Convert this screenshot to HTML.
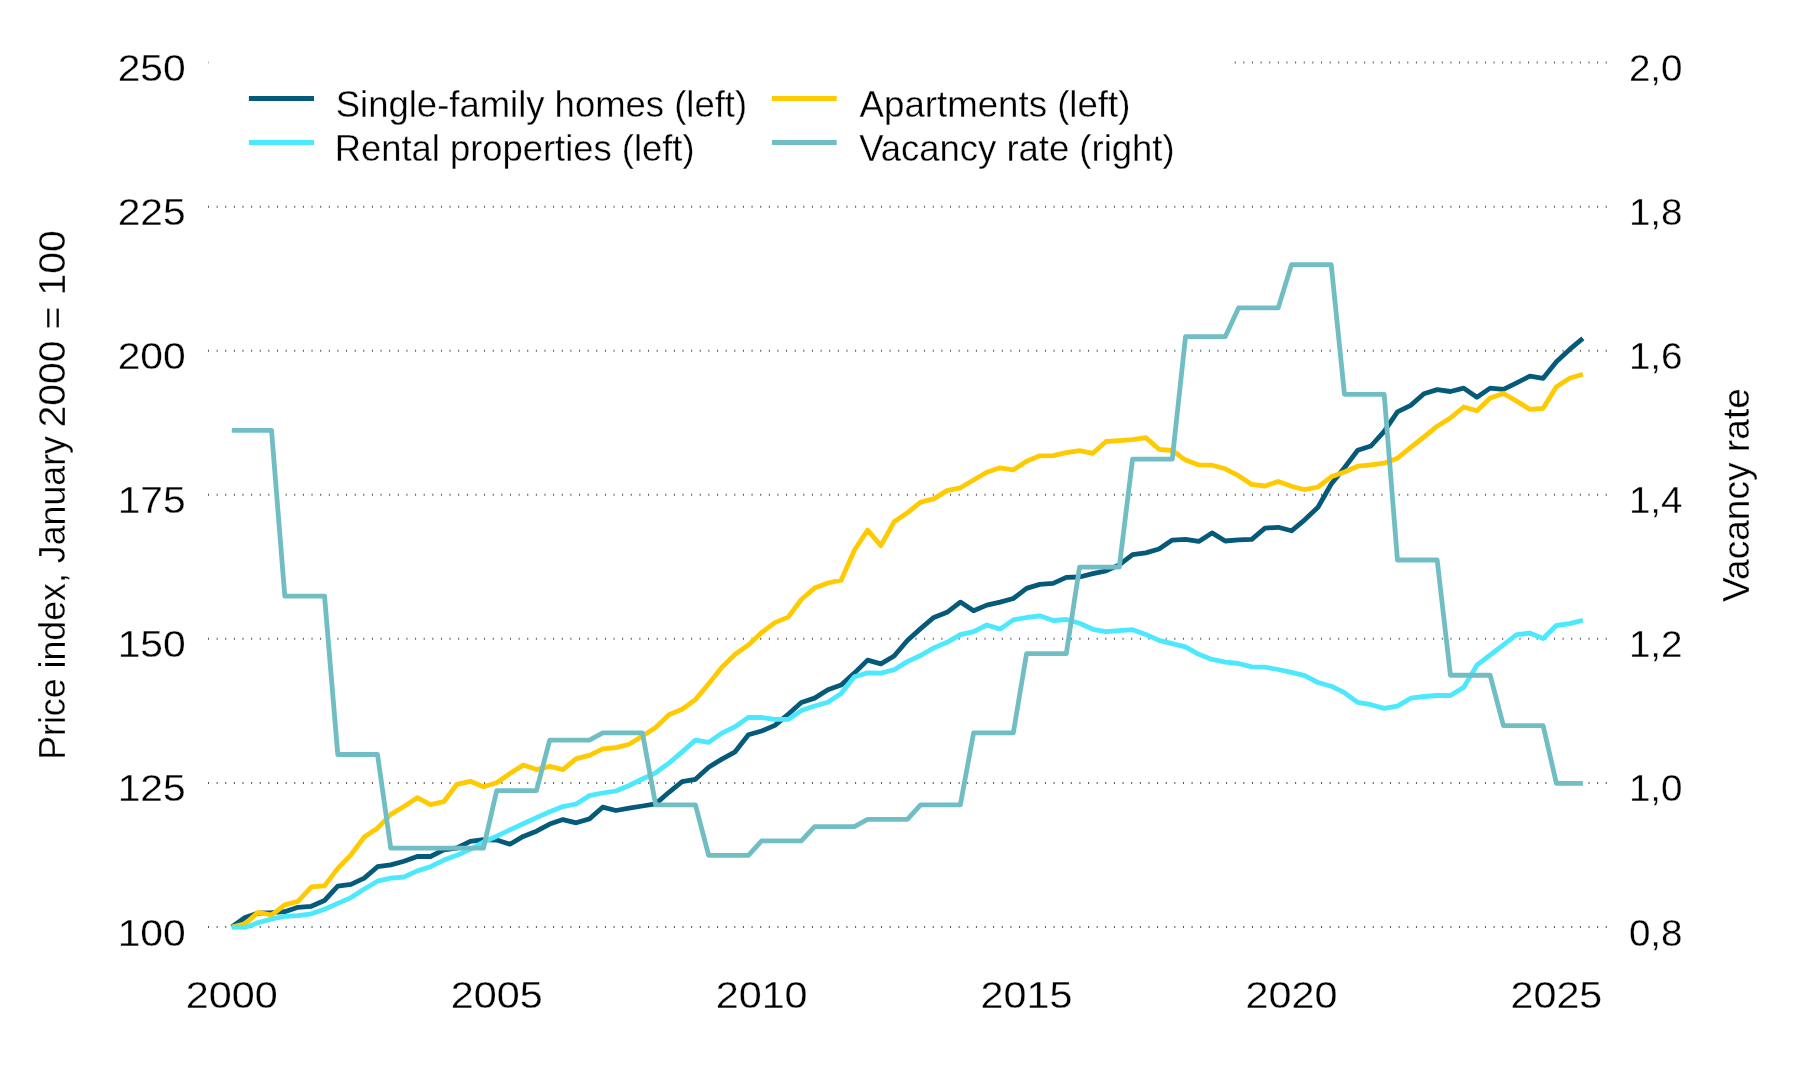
<!DOCTYPE html>
<html><head><meta charset="utf-8"><title>Chart</title>
<style>
html,body{margin:0;padding:0;background:#ffffff;}
body{width:1800px;height:1080px;overflow:hidden;font-family:"Liberation Sans",sans-serif;}
svg{display:block;will-change:transform;}
</style></head>
<body>
<svg width="1800" height="1080" viewBox="0 0 1800 1080">
<rect x="0" y="0" width="1800" height="1080" fill="#ffffff"/>
<g stroke="#555" stroke-width="2" stroke-dasharray="1 7.628" fill="none">
<line x1="208.00" y1="927.00" x2="1606.74" y2="927.00" />
<line x1="208.00" y1="782.93" x2="1606.74" y2="782.93" />
<line x1="208.00" y1="638.86" x2="1606.74" y2="638.86" />
<line x1="208.00" y1="494.79" x2="1606.74" y2="494.79" />
<line x1="208.00" y1="350.72" x2="1606.74" y2="350.72" />
<line x1="208.00" y1="206.65" x2="1606.74" y2="206.65" />
<line x1="1234.73" y1="62.58" x2="1606.74" y2="62.58" />
<line x1="208.00" y1="62.58" x2="209.00" y2="62.58" stroke="#bbb"/>
</g>
<g fill="none" stroke-width="4.8" stroke-linejoin="round" stroke-linecap="butt">
<path d="M231.80,927.00 L245.05,917.50 L258.29,913.10 L271.54,912.60 L284.78,911.70 L298.03,907.30 L311.28,906.30 L324.52,900.50 L337.77,886.20 L351.01,884.40 L364.26,878.10 L377.51,866.70 L390.75,864.90 L404.00,861.30 L417.24,856.50 L430.49,856.50 L443.74,849.90 L456.98,848.00 L470.23,841.40 L483.47,839.60 L496.72,840.00 L509.97,844.20 L523.21,836.40 L536.46,831.20 L549.70,824.10 L562.95,819.60 L576.20,822.80 L589.44,818.90 L602.69,807.20 L615.93,810.50 L629.18,808.20 L642.43,806.00 L655.67,803.90 L668.92,792.30 L682.16,781.70 L695.41,779.30 L708.66,767.20 L721.90,759.10 L735.15,751.80 L748.39,734.80 L761.64,731.00 L774.89,725.40 L788.13,714.30 L801.38,702.50 L814.62,698.10 L827.87,689.70 L841.12,685.10 L854.36,673.10 L867.61,660.10 L880.85,663.90 L894.10,656.00 L907.35,640.50 L920.59,628.60 L933.84,617.40 L947.08,612.30 L960.33,602.10 L973.58,610.70 L986.82,605.10 L1000.07,602.10 L1013.31,598.50 L1026.56,588.40 L1039.81,584.40 L1053.05,583.40 L1066.30,577.40 L1079.54,577.00 L1092.79,573.70 L1106.04,570.90 L1119.28,564.90 L1132.53,554.70 L1145.77,552.90 L1159.02,549.00 L1172.27,540.10 L1185.51,539.30 L1198.76,541.40 L1212.00,532.90 L1225.25,541.00 L1238.50,539.80 L1251.74,539.30 L1264.99,528.10 L1278.23,527.30 L1291.48,530.80 L1304.73,519.80 L1317.97,507.30 L1331.22,484.00 L1344.46,467.80 L1357.71,450.30 L1370.96,446.00 L1384.20,431.40 L1397.45,411.90 L1410.69,405.40 L1423.94,393.80 L1437.19,389.60 L1450.43,391.50 L1463.68,388.10 L1476.92,397.30 L1490.17,388.10 L1503.42,389.30 L1516.66,382.80 L1529.91,376.10 L1543.15,378.30 L1556.40,361.70 L1569.65,349.40 L1582.89,338.30" stroke="#045a78"/>
<path d="M231.80,927.00 L245.05,923.80 L258.29,912.30 L271.54,915.00 L284.78,904.90 L298.03,901.40 L311.28,886.90 L324.52,885.90 L337.77,868.40 L351.01,854.80 L364.26,837.00 L377.51,828.20 L390.75,814.40 L404.00,806.50 L417.24,797.70 L430.49,804.70 L443.74,801.70 L456.98,784.30 L470.23,781.30 L483.47,786.70 L496.72,782.80 L509.97,773.50 L523.21,765.10 L536.46,769.60 L549.70,766.40 L562.95,769.60 L576.20,758.60 L589.44,755.40 L602.69,748.90 L615.93,747.60 L629.18,744.20 L642.43,736.00 L655.67,727.50 L668.92,714.80 L682.16,709.30 L695.41,699.60 L708.66,683.70 L721.90,667.20 L735.15,654.30 L748.39,644.90 L761.64,632.50 L774.89,622.60 L788.13,617.10 L801.38,599.50 L814.62,588.00 L827.87,583.00 L841.12,580.20 L854.36,550.30 L867.61,530.10 L880.85,545.60 L894.10,521.80 L907.35,512.80 L920.59,502.20 L933.84,498.90 L947.08,490.60 L960.33,487.80 L973.58,480.00 L986.82,472.20 L1000.07,467.80 L1013.31,469.80 L1026.56,461.30 L1039.81,455.80 L1053.05,455.60 L1066.30,452.60 L1079.54,450.70 L1092.79,453.30 L1106.04,441.50 L1119.28,440.60 L1132.53,439.60 L1145.77,437.60 L1159.02,449.30 L1172.27,450.50 L1185.51,460.10 L1198.76,464.90 L1212.00,465.20 L1225.25,468.80 L1238.50,475.70 L1251.74,484.40 L1264.99,486.00 L1278.23,481.50 L1291.48,486.30 L1304.73,489.70 L1317.97,487.00 L1331.22,476.80 L1344.46,472.00 L1357.71,466.20 L1370.96,464.80 L1384.20,463.20 L1397.45,458.20 L1410.69,447.40 L1423.94,437.00 L1437.19,426.20 L1450.43,418.00 L1463.68,407.00 L1476.92,410.70 L1490.17,398.00 L1503.42,393.50 L1516.66,401.10 L1529.91,409.40 L1543.15,408.30 L1556.40,386.70 L1569.65,378.30 L1582.89,374.20" stroke="#ffcb00"/>
<path d="M231.80,927.20 L245.05,927.40 L258.29,922.60 L271.54,919.00 L284.78,916.40 L298.03,915.60 L311.28,913.80 L324.52,909.20 L337.77,903.40 L351.01,897.60 L364.26,889.00 L377.51,881.20 L390.75,878.20 L404.00,877.00 L417.24,870.90 L430.49,866.70 L443.74,860.10 L456.98,855.30 L470.23,849.30 L483.47,842.00 L496.72,836.20 L509.97,829.90 L523.21,823.80 L536.46,817.60 L549.70,811.80 L562.95,806.60 L576.20,804.00 L589.44,795.60 L602.69,793.00 L615.93,791.00 L629.18,785.50 L642.43,779.00 L655.67,772.80 L668.92,763.10 L682.16,751.80 L695.41,740.10 L708.66,742.40 L721.90,733.10 L735.15,726.70 L748.39,717.40 L761.64,717.50 L774.89,719.40 L788.13,719.40 L801.38,710.60 L814.62,706.00 L827.87,702.20 L841.12,693.50 L854.36,676.80 L867.61,672.90 L880.85,673.10 L894.10,669.70 L907.35,661.60 L920.59,655.50 L933.84,647.90 L947.08,642.30 L960.33,634.70 L973.58,631.60 L986.82,625.00 L1000.07,629.10 L1013.31,619.90 L1026.56,617.50 L1039.81,615.80 L1053.05,620.50 L1066.30,619.50 L1079.54,623.20 L1092.79,629.30 L1106.04,631.60 L1119.28,630.60 L1132.53,629.70 L1145.77,634.40 L1159.02,640.40 L1172.27,643.60 L1185.51,646.90 L1198.76,654.30 L1212.00,659.40 L1225.25,662.10 L1238.50,663.50 L1251.74,666.80 L1264.99,667.20 L1278.23,669.50 L1291.48,672.30 L1304.73,675.60 L1317.97,682.50 L1331.22,686.20 L1344.46,692.70 L1357.71,702.40 L1370.96,704.70 L1384.20,708.40 L1397.45,706.10 L1410.69,698.20 L1423.94,696.50 L1437.19,695.50 L1450.43,695.50 L1463.68,687.40 L1476.92,665.20 L1490.17,655.00 L1503.42,644.80 L1516.66,634.60 L1529.91,633.10 L1543.15,638.50 L1556.40,625.50 L1569.65,623.60 L1582.89,620.20" stroke="#4ce8fd"/>
<path d="M231.80,430.35 L245.05,430.35 L258.29,430.35 L271.54,430.35 L284.78,596.03 L298.03,596.03 L311.28,596.03 L324.52,596.03 L337.77,754.51 L351.01,754.51 L364.26,754.51 L377.51,754.51 L390.75,848.16 L404.00,848.16 L417.24,848.16 L430.49,848.16 L443.74,848.16 L456.98,848.16 L470.23,848.16 L483.47,848.16 L496.72,790.53 L509.97,790.53 L523.21,790.53 L536.46,790.53 L549.70,740.11 L562.95,740.11 L576.20,740.11 L589.44,740.11 L602.69,732.90 L615.93,732.90 L629.18,732.90 L642.43,732.90 L655.67,804.94 L668.92,804.94 L682.16,804.94 L695.41,804.94 L708.66,855.36 L721.90,855.36 L735.15,855.36 L748.39,855.36 L761.64,840.96 L774.89,840.96 L788.13,840.96 L801.38,840.96 L814.62,826.55 L827.87,826.55 L841.12,826.55 L854.36,826.55 L867.61,819.35 L880.85,819.35 L894.10,819.35 L907.35,819.35 L920.59,804.94 L933.84,804.94 L947.08,804.94 L960.33,804.94 L973.58,732.90 L986.82,732.90 L1000.07,732.90 L1013.31,732.90 L1026.56,653.66 L1039.81,653.66 L1053.05,653.66 L1066.30,653.66 L1079.54,567.22 L1092.79,567.22 L1106.04,567.22 L1119.28,567.22 L1132.53,459.17 L1145.77,459.17 L1159.02,459.17 L1172.27,459.17 L1185.51,336.70 L1198.76,336.70 L1212.00,336.70 L1225.25,336.70 L1238.50,307.89 L1251.74,307.89 L1264.99,307.89 L1278.23,307.89 L1291.48,264.67 L1304.73,264.67 L1317.97,264.67 L1331.22,264.67 L1344.46,394.33 L1357.71,394.33 L1370.96,394.33 L1384.20,394.33 L1397.45,560.02 L1410.69,560.02 L1423.94,560.02 L1437.19,560.02 L1450.43,675.27 L1463.68,675.27 L1476.92,675.27 L1490.17,675.27 L1503.42,725.70 L1516.66,725.70 L1529.91,725.70 L1543.15,725.70 L1556.40,783.33 L1569.65,783.33 L1582.89,783.33" stroke="#70bec3"/>
</g>
<g font-family="Liberation Sans, sans-serif" font-size="36.5" fill="#000" stroke="#fff" stroke-width="0.3">
<text x="117.7" y="945.50" textLength="68.03" lengthAdjust="spacingAndGlyphs">100</text>
<text x="1628.9" y="945.50" textLength="53.63" lengthAdjust="spacingAndGlyphs">0,8</text>
<text x="117.7" y="801.43" textLength="68.03" lengthAdjust="spacingAndGlyphs">125</text>
<text x="1628.9" y="801.43" textLength="53.63" lengthAdjust="spacingAndGlyphs">1,0</text>
<text x="117.7" y="657.36" textLength="68.03" lengthAdjust="spacingAndGlyphs">150</text>
<text x="1628.9" y="657.36" textLength="53.63" lengthAdjust="spacingAndGlyphs">1,2</text>
<text x="117.7" y="513.29" textLength="68.03" lengthAdjust="spacingAndGlyphs">175</text>
<text x="1628.9" y="513.29" textLength="53.63" lengthAdjust="spacingAndGlyphs">1,4</text>
<text x="117.7" y="369.22" textLength="68.03" lengthAdjust="spacingAndGlyphs">200</text>
<text x="1628.9" y="369.22" textLength="53.63" lengthAdjust="spacingAndGlyphs">1,6</text>
<text x="117.7" y="225.15" textLength="68.03" lengthAdjust="spacingAndGlyphs">225</text>
<text x="1628.9" y="225.15" textLength="53.63" lengthAdjust="spacingAndGlyphs">1,8</text>
<text x="117.7" y="81.08" textLength="68.03" lengthAdjust="spacingAndGlyphs">250</text>
<text x="1628.9" y="81.08" textLength="53.63" lengthAdjust="spacingAndGlyphs">2,0</text>
<text x="185.84" y="1007.5" textLength="91.92" lengthAdjust="spacingAndGlyphs">2000</text>
<text x="450.76" y="1007.5" textLength="91.92" lengthAdjust="spacingAndGlyphs">2005</text>
<text x="715.68" y="1007.5" textLength="91.92" lengthAdjust="spacingAndGlyphs">2010</text>
<text x="980.60" y="1007.5" textLength="91.92" lengthAdjust="spacingAndGlyphs">2015</text>
<text x="1245.52" y="1007.5" textLength="91.92" lengthAdjust="spacingAndGlyphs">2020</text>
<text x="1510.44" y="1007.5" textLength="91.92" lengthAdjust="spacingAndGlyphs">2025</text>
</g>
<g stroke-width="5" fill="none">
<line x1="248.9" y1="98.5" x2="314" y2="98.5" stroke="#045a78"/>
<line x1="248.9" y1="142.5" x2="314" y2="142.5" stroke="#4ce8fd"/>
<line x1="772" y1="98.5" x2="836.7" y2="98.5" stroke="#ffcb00"/>
<line x1="772" y1="142.5" x2="836.7" y2="142.5" stroke="#70bec3"/>
</g>
<g font-family="Liberation Sans, sans-serif" fill="#000" stroke="#fff" stroke-width="0.3">
<text x="335.78" y="116.5" font-size="36" textLength="411.35" lengthAdjust="spacingAndGlyphs">Single-family homes (left)</text>
<text x="334.69" y="160.7" font-size="36" textLength="359.91" lengthAdjust="spacingAndGlyphs">Rental properties (left)</text>
<text x="859.60" y="116.5" font-size="36" textLength="270.84" lengthAdjust="spacingAndGlyphs">Apartments (left)</text>
<text x="859.24" y="160.7" font-size="36" textLength="315.30" lengthAdjust="spacingAndGlyphs">Vacancy rate (right)</text>
</g>
<g font-family="Liberation Sans, sans-serif" fill="#000" stroke="#fff" stroke-width="0.3">
<text transform="translate(65.2,759.86) rotate(-90)" font-size="36.3" textLength="323.77" lengthAdjust="spacingAndGlyphs">Price index, January</text>
<text transform="translate(65.2,427.56) rotate(-90)" font-size="36.3" textLength="197.34" lengthAdjust="spacingAndGlyphs">2000 = 100</text>
<text transform="translate(1749.4,601.97) rotate(-90)" font-size="36.7" textLength="213.84" lengthAdjust="spacingAndGlyphs">Vacancy rate</text>
</g>
</svg>
</body></html>
